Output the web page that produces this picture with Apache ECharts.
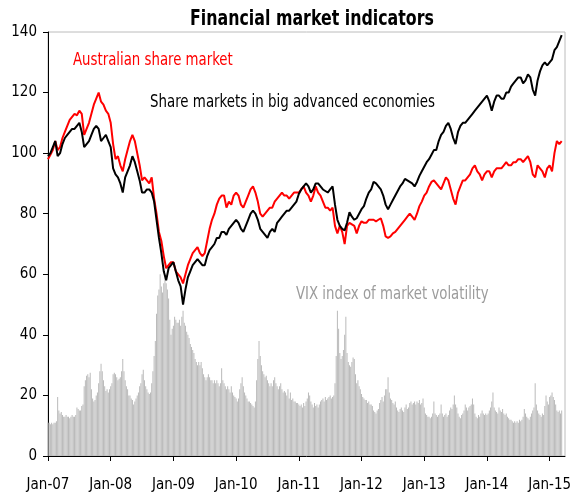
<!DOCTYPE html>
<html><head><meta charset="utf-8">
<script src="https://cdn.jsdelivr.net/npm/echarts@6/dist/echarts.min.js"></script>
<style>html,body{margin:0;padding:0;background:#fff}#c{width:576px;height:498px}</style>
</head><body><div id="c"></div>
<script>
// x positions are calendar years (fractional); ticks at January of each year
const years = [2007, 2008, 2009, 2010, 2011, 2012, 2013, 2014, 2015];
const tickLabels = ['Jan-07','Jan-08','Jan-09','Jan-10','Jan-11','Jan-12','Jan-13','Jan-14','Jan-15'];

// Australian share market (index, fortnightly readings per year)
const aus07 = [98,99.5,101,104,101,102,105,107,109,111,112,113,112.5,114,113,106,108,110,113,116,118,120,117,116,114,113];
const aus08 = [110,103,98,99,96,94,98,101,104,106,104,100,96,91,92,91,90,92,85,80,74,71,66,62,63,64];
const aus09 = [64,61,60,59,57,60,63,65,67,68,69,67,66,67,71,75,78,80,83,85,86,86,82,84,83,86];
const aus10 = [87,86,83,82,84,86,88,89,87,84,80,79,80,81,82,82,84,85,86,87,86,86,85,86,87,87];
const aus11 = [87,88,89,87,86,84,86,89,87,86,84,82,82,81,82,76,73.5,76,74,70,76,77,76.5,76,73.5,76];
const aus12 = [77.5,77,77,78,78,78,77.5,78,78.5,76,72.5,72,72.5,73.5,74,75,76,77,78,79,80,79,78,80,82.5,84];
const aus13 = [86,87,89,90.5,91,90,89,88,90,92,91,88,85,83,87,89,91,91,92,93,95,96,94,93,91,93];
const aus14 = [94,94,92,94,95,95,95,96,97,96,96,97,97,98,98,97,98,99,97,93,92,96,95,94,92,95];
const aus15 = [96,94,100,104,103,104];

// Share markets in big advanced economies (fortnightly readings per year)
const adv07 = [99,100,102,104,99,100,103,105,106,107,108,108,109,110,107,102,103,104,106,108,109,108,104,105,106,104];
const adv08 = [102,95,93,92,90,87,92,94,96,99,97,94,91,87,87,88,88,87,84,78,72,67,61,58,62,63];
const adv09 = [64,61,58,56,50,55,59,61,63,64,65,64,63,63,66,68,69,70,72,72,74,74,73,75,76,77];
const adv10 = [78,77,75,74,76,78,80,81,80,78,75,74,73,72,74,75,74,77,78,79,80,81,81,82,83,84];
const adv11 = [86.5,88,89,90,89,87,88,90,90,89,88,87.5,87,88,89,83,78,76,75,74.5,77,80.5,79,78,78.5,80];
const adv12 = [81.5,82.5,85,87,88,90.5,90,89,88,86,83,81.5,83,84.5,86,87.5,89,90,91.5,91,90.5,90,89,90.5,92.5,94];
const adv13 = [95.5,97,98,99.5,101,101,104,106,107,109,110,108,105,103,107,109,110,110,111,112,113,114,115,116,117,118];
const adv14 = [119,117,114,117,119,119,118,118,120,120,122,123,124,125,125,123,124,126,125,121,119,124,127,129,130,129];
const adv15 = [130,131,134,135,137,139];

// VIX index of market volatility (weekly readings per year)
const vix07 = [11,11,10.5,11,10.5,11,11,11.5,19.5,15,14,14.5,13.5,13,13,13.5,13,13,12.5,13,13.5,13,13,13.5,16,15.5,15,15,16.5,17,23,25,26.5,27,26,27.5,22,19,18,18.5,20,21,24,28,30.5,28,25,23,21.5,22,21,22];
const vix08 = [23,24,27,27.5,27,26,25,25.5,26,28,32,28,25,23,22,20,20,19,18.5,17,18,19,20,21,23,24,27,28.5,25,23,22,21,20.5,21,24,28,33,38,47,53,55,60,56,54,57,59,57,55,52,45,40,42];
const vix09 = [43,46,45,44,44,45,43,46,48,44,43,41,40,39,37,36,35,34,32,31,30,31,30,31,29,27,26,25,26,27,26,25,25,24,25,24,25,24,23,24,29,25,24,23,22,23,22,21,23,21,20,19.5];
const vix10 = [19,18,19,22,24,26,23,21,20,19,18,18,17.5,17,16.5,16,18,25,32,38,33,30,28,27,26,26.5,25,24,23,24,23,25,26,24,23,22,23,24,22,21,21.5,21,20,22,19,21,18.5,19,18,18,17.5,17.5];
const vix11 = [17,16.5,17,16,17.5,16.5,18,19,21,20,18,17,16,17.5,16.5,17,16,17,18,18.5,19,18,19.5,18.5,19,19.5,20,19,19.5,20,24,33,48,42,34,32,33,35,40,46,34,31,30,29.5,31,32.5,32,27,24,25,23,22];
const vix12 = [20.5,19.5,19,18.5,18.5,17.5,18,17,17,16.5,15,14.5,14,15,15.5,17.5,18.5,19.5,18,20,22,22,26,21,19,18.5,17.5,17,18,16,15,14.5,15.5,16,15,14.5,16,17,15.5,16,17.5,18,17,17.5,18,17,18,17.5,18.5,17,17.5,19];
const vix13 = [16,14,13.5,13,13,12.5,13,14,18,14,13.5,13,13.5,14,17,14,13,13.5,14,13,13.5,15,16,15.5,17,20,17,16,14,13,12.5,13.5,14,15,17,16,15,16,16.5,17,19,17,14,13,12.5,13.5,13,14,15,14,13.5,14];
const vix14 = [13.5,14,15,16,18,21,16,15,14.5,14,16,15,14.5,15.5,14,13.5,14,13,12.5,12,12,11.5,11,11.5,11,11.5,11,12,11.5,12,13,15.5,14,13,12.5,12,13,14,15,16,24,17,15,14,13.5,13,14,13.5,16.5,20,18,17];
const vix15 = [19.5,20,21,19.5,18.5,17,15,14.5,15,14,15];

function build(perYear, stepsPerYear) {
  const out = [];
  perYear.forEach((arr, k) => arr.forEach((v, i) => out.push([years[k] + i / stepsPerYear, v])));
  return out;
}
const ausData = build([aus07,aus08,aus09,aus10,aus11,aus12,aus13,aus14,aus15], 26);
const advData = build([adv07,adv08,adv09,adv10,adv11,adv12,adv13,adv14,adv15], 26);
const vixData = build([vix07,vix08,vix09,vix10,vix11,vix12,vix13,vix14,vix15], 52);

const FONT = "'Liberation Sans Narrow','Arial Narrow','DejaVu Sans Condensed',sans-serif";
const chart = echarts.init(document.getElementById('c'), null, {renderer: 'canvas'});
chart.setOption({
  animation: false,
  backgroundColor: '#ffffff',
  grid: {left: 48, right: 11, top: 32, bottom: 42, show: true, borderColor: '#bcbcbc', borderWidth: 1},
  xAxis: {
    type: 'value', min: 2007, max: 2015.245,
    axisLine: {show: true, onZero: false, lineStyle: {color: '#000', width: 1}},
    axisTick: {show: true, length: 5, customValues: years, lineStyle: {color: '#000'}},
    axisLabel: {customValues: years, margin: 22, color: '#000', fontFamily: FONT, fontSize: 15,
      formatter: v => tickLabels[years.indexOf(Math.round(v))] || ''},
    splitLine: {show: false}
  },
  yAxis: {
    type: 'value', min: 0, max: 140, interval: 20,
    axisLine: {show: true, lineStyle: {color: '#000', width: 1}},
    axisTick: {show: true, length: 5, lineStyle: {color: '#000'}},
    axisLabel: {margin: 11, color: '#000', fontFamily: FONT, fontSize: 15},
    splitLine: {show: false}
  },
  series: [
    {name: 'VIX', type: 'bar', data: vixData, barWidth: 1, itemStyle: {color: '#bababa'}, z: 1},
    {name: 'Australian share market', type: 'line', data: ausData, showSymbol: false,
     lineStyle: {color: '#ff0000', width: 2}, itemStyle: {color: '#ff0000'}, z: 2},
    {name: 'Share markets in big advanced economies', type: 'line', data: advData, showSymbol: false,
     lineStyle: {color: '#000000', width: 2}, itemStyle: {color: '#000'}, z: 3}
  ],
  graphic: [
    {type: 'text', left: 190, top: 8, scaleX: 0.8, style: {text: 'Financial market indicators', fill: '#000',
      fontFamily: FONT, fontSize: 22, fontWeight: 'bold'}},
    {type: 'text', left: 73, top: 52, scaleX: 0.87, style: {text: 'Australian share market', fill: '#ff0000',
      fontFamily: FONT, fontSize: 17}},
    {type: 'text', left: 150, top: 94, scaleX: 0.875, style: {text: 'Share markets in big advanced economies', fill: '#000',
      fontFamily: FONT, fontSize: 17}},
    {type: 'text', left: 296, top: 286, scaleX: 0.87, style: {text: 'VIX index of market volatility', fill: '#9c9c9c',
      fontFamily: FONT, fontSize: 17}}
  ]
});
</script></body></html>
